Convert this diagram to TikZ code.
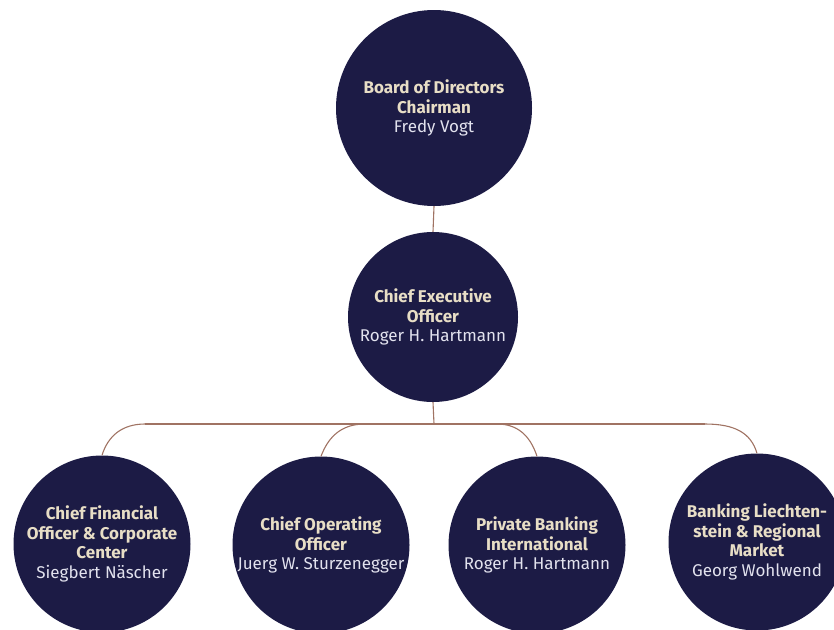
\documentclass[tikz,border=0pt]{standalone}
\usepackage{fontspec}
\setmainfont{Fira Sans}
\definecolor{navy}{HTML}{1C1B45}
\definecolor{linkc}{HTML}{A07363}
\definecolor{titlec}{HTML}{E8DEC6}
\definecolor{namec}{HTML}{E2E2EE}
\begin{document}
\begin{tikzpicture}[x=1pt,y=-1pt,
  orgnode/.style={circle, fill=navy, inner sep=0pt, align=center, text=titlec,
    font=\fontsize{17}{19.5}\selectfont},
  bigc/.style={orgnode, minimum size=196pt},
  midc/.style={orgnode, minimum size=170pt},
  lowc/.style={orgnode, minimum size=177pt},
  link/.style={draw=linkc, line width=1.1pt}]
\useasboundingbox (0,0) rectangle (834,629);
\clip (0,0) rectangle (834,629);
\node[bigc] (top) at (434,108) {\textbf{Board of Directors}\\\textbf{Chairman}\\\textcolor{namec}{Fredy Vogt}};
\node[midc] (ceo) at (433,317) {\textbf{Chief Executive}\\\textbf{Officer}\\\textcolor{namec}{Roger H. Hartmann}};
\node[lowc] (c1) at (102,544) {\textbf{Chief Financial}\\\textbf{Officer \& Corporate}\\\textbf{Center}\\\textcolor{namec}{Siegbert Näscher}};
\node[lowc] (c2) at (321,545) {\textbf{Chief Operating}\\\textbf{Officer}\\\textcolor{namec}{Juerg W. Sturzenegger}};
\node[lowc] (c3) at (537,545) {\textbf{Private Banking}\\\textbf{International}\\\textcolor{namec}{Roger H. Hartmann}};
\node[lowc] (c4) at (757,542) {\textbf{Banking Liechten-}\\\textbf{stein \& Regional}\\\textbf{Market}\\\textcolor{namec}{Georg Wohlwend}};
\coordinate (j) at (434,424);
\coordinate (h1) at (145,424);
\coordinate (h2) at (365,424);
\coordinate (h3) at (497,424);
\coordinate (h4) at (705,424);
\draw[link] (top.south) -- (ceo.north);
\draw[link] (ceo.south) -- (j);
\draw[link] (h1) -- (h4);
\draw[link] (h1) .. controls (122,424) and (108,436) .. (c1.north);
\draw[link] (h2) .. controls (343,424) and (329,435) .. (c2.north);
\draw[link] (h3) .. controls (517,424) and (530,435) .. (c3.north);
\draw[link] (h4) .. controls (735,424) and (751,433) .. (c4.north);
\end{tikzpicture}
\end{document}
